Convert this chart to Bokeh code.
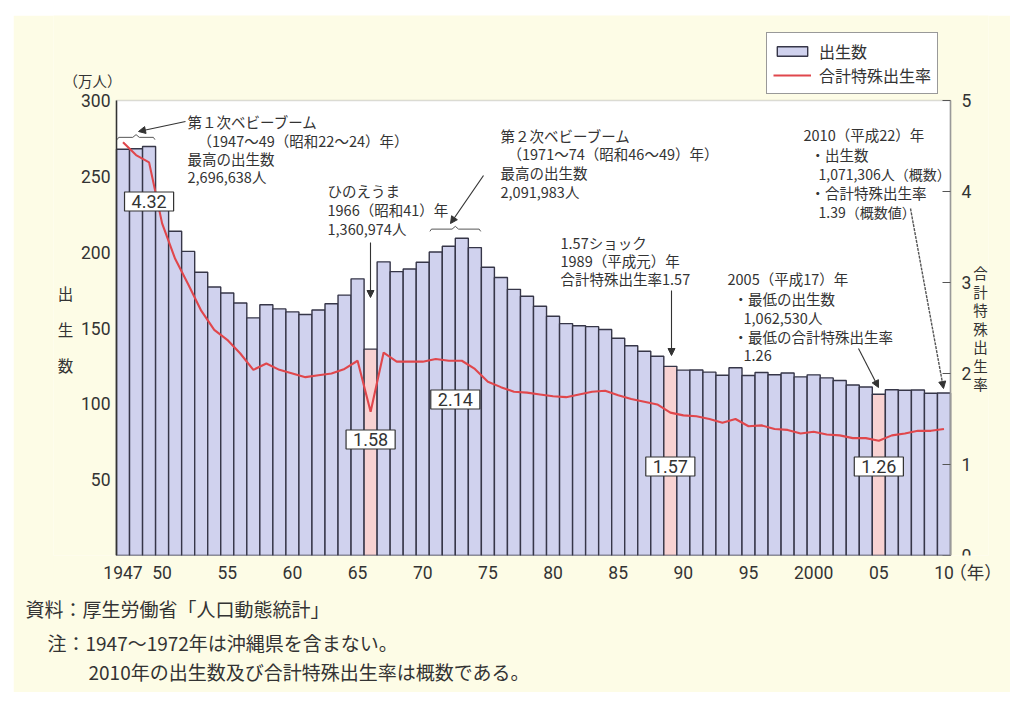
from bokeh.plotting import figure
from bokeh.models import (Range1d, LinearAxis, FixedTicker, Label, Arrow, NormalHead,
                          Legend, LegendItem, ColumnDataSource, BoxAnnotation, Title, Spacer)
from bokeh.layouts import column, row
from bokeh.embed import file_html
from bokeh.resources import INLINE

# ---------------- data ----------------
years = list(range(1947, 2011))
births = [267.9, 268.2, 269.7, 233.8, 213.8, 200.5, 186.8, 177.0, 173.1, 166.5,
          156.7, 165.3, 162.6, 160.6, 158.9, 161.9, 166.0, 171.7, 182.4, 136.1,
          193.6, 187.2, 188.9, 193.4, 200.1, 203.9, 209.2, 203.0, 190.1, 183.3,
          175.5, 170.9, 164.3, 157.7, 152.9, 151.5, 150.9, 149.0, 143.2, 138.3,
          134.7, 131.4, 124.7, 122.2, 122.3, 120.9, 118.8, 123.8, 118.7, 120.7,
          119.2, 120.3, 117.8, 119.1, 117.1, 115.4, 112.4, 111.1, 106.3, 109.3,
          109.0, 109.1, 107.0, 107.1]
tfr = [4.54, 4.40, 4.32, 3.65, 3.26, 2.98, 2.69, 2.48, 2.37, 2.22,
       2.04, 2.11, 2.04, 2.00, 1.96, 1.98, 2.00, 2.05, 2.14, 1.58,
       2.23, 2.13, 2.13, 2.13, 2.16, 2.14, 2.14, 2.05, 1.91, 1.85,
       1.80, 1.79, 1.77, 1.75, 1.74, 1.77, 1.80, 1.81, 1.76, 1.72,
       1.69, 1.66, 1.57, 1.54, 1.53, 1.50, 1.46, 1.50, 1.42, 1.43,
       1.39, 1.38, 1.34, 1.36, 1.33, 1.32, 1.29, 1.29, 1.26, 1.32,
       1.34, 1.37, 1.37, 1.39]
highlight_years = [1966, 1989, 2005]
x_tick_years = [1947, 1950, 1955, 1960, 1965, 1970, 1975, 1980, 1985, 1990, 1995, 2000, 2005, 2010]
x_tick_labels = ["1947", "50", "55", "60", "65", "70", "75", "80", "85", "90", "95", "2000", "05", "10"]
x_unit_label = "（年）"
left_ticks = [50, 100, 150, 200, 250, 300]
right_ticks = [0, 1, 2, 3, 4, 5]
box_years = [1949, 1966, 1972.5, 1989, 2005]
box_texts = ["4.32", "1.58", "2.14", "1.57", "1.26"]
boom1 = [1947, 1949]
boom2 = [1971, 1974]

# ---------------- styling ----------------
CREAM = "#fdfce6"
BAR = "#d0d2ee"
PINK = "#f8d2d2"
RED = "#e0474c"
TXT = "#333333"
JP = "Noto Sans CJK JP"
NUM = "Liberation Sans Narrow, Roboto, Noto Sans CJK JP"

# page geometry: plot area (white box) and the bokeh frame
FL, FR, FT, FB = 116, 950, 100, 555          # plot area in page px
PX0, PY0 = 13, 15                            # figure origin on the page (body margin is 0)
W, H = 997, 677
BL, BR, BT, BB = 40, 22, 0, 137              # borders around the frame
GL, GR, GT, GB = PX0 + BL, PX0 + W - BR, PY0 + BT, PY0 + H - BB
X0, X1 = 1946.5, 2010.5
XS = (FR - FL) / (X1 - X0)                   # px per year
YS = (FB - FT) / 300.0                        # px per 万人
TS = (FB - FT) / 5.0                          # px per TFR unit


def dx(px):
    return X0 + (px - FL) / XS


def dy(py):
    return (FB - py) / YS


def dt(py):
    return (FB - py) / TS


p = figure(width=W, height=H, x_range=Range1d(dx(GL), dx(GR)),
           y_range=Range1d(dy(GB), dy(GT)),
           toolbar_location=None, output_backend="svg",
           min_border_left=BL, min_border_right=BR, min_border_top=BT, min_border_bottom=BB,
           background_fill_color=CREAM, border_fill_color=CREAM, outline_line_color=None)
p.extra_y_ranges = {"tfr": Range1d(dt(GB), dt(GT))}
p.xgrid.visible = False
p.ygrid.visible = False

# white plot area
p.add_layout(BoxAnnotation(left=X0, right=X1, bottom=0, top=300, fill_color="white",
                           fill_alpha=1.0, line_color="#8a8a8a", line_width=1.5,
                           level="underlay"))

colors = [PINK if y in highlight_years else BAR for y in years]
src = ColumnDataSource(dict(year=years, births=births, tfr=tfr, color=colors))

bars = p.vbar(x="year", top="births", width=1.0, fill_color="color", line_color="#363648",
              line_width=1.4, source=src)
line = p.line(x="year", y="tfr", y_range_name="tfr", line_color=RED, line_width=2.1,
              source=src)

# x axis (at the frame bottom); the unit label sits on its own tick right of the data
unit_x = dx(975)
xa = p.xaxis[0]
xa.ticker = FixedTicker(ticks=x_tick_years + [unit_x])
ovr = {y: t for y, t in zip(x_tick_years, x_tick_labels)}
ovr[unit_x] = x_unit_label
xa.major_label_overrides = ovr
xa.major_tick_out = 0
xa.major_tick_in = 0
xa.minor_tick_out = 0
xa.minor_tick_in = 0
xa.axis_line_color = None
xa.major_label_standoff = 7
xa.major_label_text_font = NUM
xa.major_label_text_font_size = "17.5px"
xa.major_label_text_color = TXT

ya = p.yaxis[0]
ya.ticker = FixedTicker(ticks=left_ticks)
ya.fixed_location = X0
ya.bounds = (0, 300)
ya.major_tick_out = 0
ya.major_tick_in = 0
ya.minor_tick_out = 0
ya.minor_tick_in = 0
ya.axis_line_color = "#333333"
ya.axis_line_width = 1.5
ya.major_label_standoff = 6
ya.major_label_text_font = NUM
ya.major_label_text_font_size = "17.5px"
ya.major_label_text_color = TXT

ra = LinearAxis(y_range_name="tfr", ticker=FixedTicker(ticks=right_ticks))
ra.fixed_location = X1
ra.bounds = (0, 5)
ra.major_tick_in = 8
ra.major_tick_out = 0
ra.minor_tick_in = 0
ra.minor_tick_out = 0
ra.axis_line_color = "#999999"
ra.axis_line_width = 1.5
ra.major_tick_line_color = "#555555"
ra.major_label_standoff = 11
ra.major_label_text_font = NUM
ra.major_label_text_font_size = "17.5px"
ra.major_label_text_color = TXT
p.add_layout(ra, "right")


# braces over baby-boom years
def brace(span):
    i0, i1 = years.index(span[0]), years.index(span[1])
    yb = max(births[i0:i1 + 1]) + 6
    x0, x1 = span[0] - 0.45, span[1] + 0.45
    xm = (x0 + x1) / 2
    xs = [x0, x0 + 0.12, xm - 0.25, xm, xm + 0.25, x1 - 0.12, x1]
    ys = [yb - 1.5, yb, yb, yb + 1.8, yb, yb, yb - 1.5]
    p.line(xs, ys, line_color="#555555", line_width=1)


brace(boom1)
brace(boom2)

# value boxes
box_pos_y = [201, 439, 399, 466, 466]
for xv, txt, py in zip(box_years, box_texts, box_pos_y):
    p.add_layout(Label(x=xv, y=dt(py), y_range_name="tfr", text=txt, text_align="center",
                       text_baseline="middle", text_font=NUM, text_font_size="18px",
                       text_color=TXT, background_fill_color="white",
                       border_line_color="#333333", border_line_width=1.2, padding=(7, 3)))


# text labels placed by page coordinates
def lab(px, py, txt, size="14.5px", align="left", font=JP):
    p.add_layout(Label(x=dx(px), y=dy(py), text=txt, text_align=align, text_baseline="middle",
                       text_font=font, text_font_size=size, text_color=TXT))


ann = [
    (187, 121, "第１次ベビーブーム"), (197, 140, "（1947～49（昭和22～24）年）"),
    (187, 158, "最高の出生数"), (187, 176, "2,696,638人"),
    (327, 190, "ひのえうま"), (327, 209, "1966（昭和41）年"), (327, 228, "1,360,974人"),
    (500, 135, "第２次ベビーブーム"), (507, 153, "（1971～74（昭和46～49）年）"),
    (500, 172, "最高の出生数"), (500, 191, "2,091,983人"),
    (560, 242, "1.57ショック"), (560, 260, "1989（平成元）年"), (560, 278, "合計特殊出生率1.57"),
    (727, 278, "2005（平成17）年"), (733, 298, "・最低の出生数"), (743, 317, "1,062,530人"),
    (733, 336, "・最低の合計特殊出生率"), (743, 355, "1.26"),
    (803, 134, "2010（平成22）年"), (810, 154, "・出生数"), (818, 173, "1,071,306人（概数）"),
    (810, 192, "・合計特殊出生率"), (818, 211, "1.39（概数値）"),
]
for px, py, t in ann:
    lab(px, py, t, size="14px" if "概数" in t else "14.5px")

# arrows (page coordinates)
arrows = [((185, 121), (138, 131), None), ((370, 242), (370, 297), None),
          ((483, 175), (450, 223), None), ((671, 290), (671, 355), None),
          ((858, 348), (878, 387), None), ((910, 208), (943, 388), "3 1")]
for (sx0, sy0), (sx1, sy1), dash in arrows:
    kw = dict(line_dash=dash, line_width=1.4, line_color="#555555") if dash else \
        dict(line_width=1.1, line_color="#333333")
    p.add_layout(Arrow(end=NormalHead(size=7, fill_color="#333333", line_color="#333333"),
                       x_start=dx(sx0), y_start=dy(sy0), x_end=dx(sx1), y_end=dy(sy1), **kw))

# axis titles
lab(92, 80, "（万人）", size="14.5px", align="center")
for i, ch in enumerate("出生数"):
    lab(65, 292 + 36 * i, ch, size="15.5px", align="center")
for i, ch in enumerate("合計特殊出生率"):
    lab(980, 272 + 18.5 * i, ch, size="14.5px", align="center")

# source notes (below panel)
notes = [("資料：厚生労働省「人口動態統計」", 25, 14, "bottom"),
         ("注：1947～1972年は沖縄県を含まない。", 47, 0, "top"),
         ("2010年の出生数及び合計特殊出生率は概数である。", 88, 0, "top")]
for txt, px, so, va in notes:
    p.add_layout(Title(text=txt, align="left", offset=px - GL, standoff=so, vertical_align=va,
                       text_font=JP, text_font_size="19px", text_font_style="normal",
                       text_color=TXT), "below")

# legend
legend = Legend(items=[LegendItem(label="出生数", renderers=[bars]),
                       LegendItem(label="合計特殊出生率", renderers=[line])],
                location=(766 - GL, GB - 94),
                border_line_color="#333333", border_line_width=1.2,
                background_fill_color="white", background_fill_alpha=1.0,
                padding=6, spacing=0, margin=0, glyph_width=38, glyph_height=12,
                label_standoff=8, label_text_font=JP, label_text_font_size="16px",
                label_text_color=TXT)
p.add_layout(legend)

root = column(Spacer(width=W + PX0, height=PY0), row(Spacer(width=PX0, height=H), p))
open("out.html", "w").write(file_html(root, INLINE))
